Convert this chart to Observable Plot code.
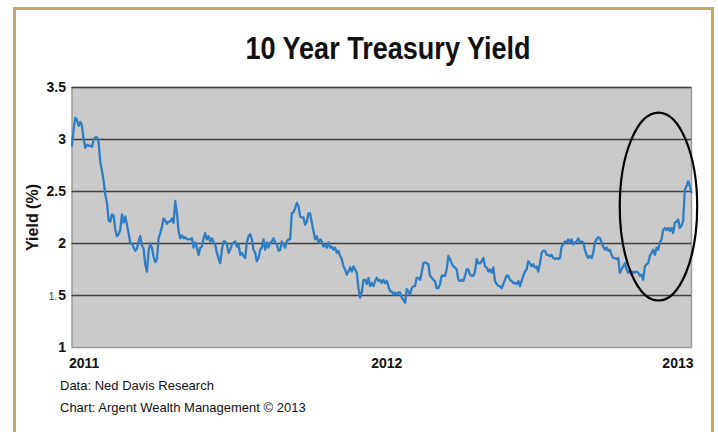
<!DOCTYPE html>
<html>
<head>
<meta charset="utf-8">
<script src="https://cdn.jsdelivr.net/npm/d3@7"></script>
<script src="https://cdn.jsdelivr.net/npm/@observablehq/plot@0.6"></script>
<style>
  html, body { margin: 0; padding: 0; background: #fff; width: 718px; height: 432px; overflow: hidden; }
  #frame { position: absolute; left: 13px; top: 7px; width: 695px; height: 480px; border: 3px solid #c6a867; }
  #title { position: absolute; left: 0; top: 32px; width: 776px; text-align: center;
           font-family: "Liberation Sans", Arial, sans-serif;
           font-weight: bold; font-size: 32px; line-height: 32px; color: #111;
           transform: scaleX(0.845); transform-origin: 388px 0; }
  #chart { position: absolute; left: 0; top: 70px; }
  .cap { position: absolute; left: 60px; font-family: "Liberation Sans", Arial, sans-serif; font-size: 13px; line-height: 16px; color: #111; }
</style>
</head>
<body>
<div id="frame"></div>
<div id="title">10 Year Treasury Yield</div>
<div id="chart"></div>
<div class="cap" style="top:378px">Data: Ned Davis Research</div>
<div class="cap" style="top:400px">Chart: Argent Wealth Management © 2013</div>
<script>
// Regularly sampled 10-year Treasury yield (%), 186 samples per year, starting 2011.0
const yields2011a = [2.94,3.10,3.21,3.19,3.13,3.17,3.13,3.00,2.92,2.95,
  2.94,2.94,2.93,3.00,3.02,3.02,2.97,2.78,2.70,2.60,
  2.47,2.39,2.22,2.21,2.28,2.27,2.13,2.07,2.09,2.13,
  2.28,2.20,2.26,2.18,2.10,2.00,2.00,1.96,1.93,1.95,
  2.02,2.07,1.98,1.95,1.80,1.73,1.93,2.00,1.96,1.87,
  1.82,1.85,2.05,2.10,2.16,2.24,2.22,2.19,2.21,2.21,
  2.24,2.20,2.41,2.29,2.12,2.05,2.08,2.05,2.06,2.04];
const yields2011b = [2.04,2.04,2.05,1.96,2.01,1.96,1.89,1.96,1.97,2.05,
  2.10,2.04,2.07,2.02,2.05,2.01,1.99,1.91,1.86,1.81,
  1.94,2.02,2.02,1.99,1.91,1.94,1.99,2.01,2.02,1.97,
  1.99,1.89,1.91,1.88,1.86,2.01,2.07,2.09,2.04,1.94,
  1.91,1.83,1.86,1.94,1.96,2.04,1.94,2.01,1.96,2.01,
  2.02,2.05,2.01,1.99,1.93,1.94,2.02,1.99,1.96,2.02,
  2.04,2.04,2.29,2.30,2.34,2.39,2.36,2.26,2.25,2.25,
  2.18,2.21];
const yields2012a = [2.29,2.29,2.20,2.12,2.04,2.07,2.01,2.04,2.02,1.97,
  1.99,1.96,2.01,1.96,1.97,1.94,1.96,1.91,1.93,1.88,
  1.85,1.78,1.75,1.70,1.73,1.77,1.73,1.78,1.75,1.72,
  1.57,1.48,1.53,1.65,1.65,1.61,1.67,1.59,1.62,1.59,
  1.64,1.67,1.64,1.65,1.62,1.65,1.62,1.64,1.59,1.54,
  1.54,1.51,1.53,1.51,1.53,1.53,1.48,1.46,1.43,1.56,
  1.54,1.51,1.57,1.59,1.59,1.67,1.67,1.65,1.72,1.81,
  1.82,1.81];
const yields2012b = [1.80,1.69,1.67,1.65,1.64,1.57,1.57,1.61,1.69,1.69,
  1.69,1.75,1.88,1.85,1.81,1.78,1.77,1.75,1.65,1.64,
  1.65,1.64,1.69,1.75,1.75,1.70,1.69,1.69,1.73,1.85,
  1.81,1.81,1.83,1.86,1.78,1.77,1.73,1.75,1.72,1.77,
  1.64,1.61,1.59,1.59,1.57,1.61,1.65,1.69,1.69,1.65,
  1.64,1.62,1.62,1.61,1.64,1.59,1.64,1.69,1.73,1.75,
  1.83,1.81,1.78,1.80,1.77,1.78,1.73,1.81,1.91,1.93,
  1.93,1.89];
const yields2012c = [1.89,1.88,1.89,1.86,1.85,1.86,1.85,1.86,1.97,1.99,
  2.02,2.01,2.04,2.01,2.04,1.99,2.01,2.02,2.05,2.01,
  2.02,2.01,1.94,1.89,1.86,1.88,1.86,1.91,2.01,2.04,
  2.06,2.05,2.01,1.97,1.94,1.96,1.93,1.94,1.89,1.86,
  1.86,1.85,1.86,1.72,1.75,1.78,1.81,1.75,1.72,1.73,
  1.70,1.73,1.72,1.73,1.72,1.69,1.70,1.65,1.78,1.80,
  1.81,1.88,1.91,1.94,1.89,1.96,1.94,2.01,2.04,2.13,
  2.15,2.13,2.15,2.12,2.15,2.10,2.20,2.21,2.23,2.15,
  2.17,2.22,2.52,2.55,2.60,2.55,2.49];
const startYear = 2011;
const samplesPerYear = 186;
const yTicks = [1, 1.5, 2, 2.5, 3, 3.5];
const gridLines = [1.5, 2, 2.5, 3, 3.5];
const xTickYears = [2011, 2012, 2013];
const xTickLabels = ["2011", "2012", "2013"];
// annotation ellipse (data units): center year, center yield, half-width (years), half-height (%)
const highlight = {cx: 2012.895, cy: 2.35, rx: 0.125, ry: 0.903};

const yields = [...yields2011a, ...yields2011b, ...yields2012a, ...yields2012b, ...yields2012c];
const series = yields.map((v, i) => ({t: startYear + i / samplesPerYear, v}));

const font = '"Liberation Sans", Arial, sans-serif';
const plot = Plot.plot({
  width: 718,
  height: 305,
  marginLeft: 71.5,
  marginRight: 27,
  marginTop: 17,
  marginBottom: 28,
  style: {background: "transparent", fontFamily: font, overflow: "visible"},
  x: {domain: [2011, 2013], axis: null},
  y: {domain: [1, 3.5], axis: null},
  marks: [
    Plot.frame({fill: "#cacaca", stroke: "#9c9c9c", strokeWidth: 1.5}),
    Plot.ruleY(gridLines, {stroke: "#3f3f3f", strokeWidth: 1.6}),
    Plot.line(series, {x: "t", y: "v", stroke: "#2e7ec6", strokeWidth: 2.3}),
    Plot.text(yTicks, {x: () => 2011, y: d => d, text: d => d === 1.5 ? "5" : String(d),
      textAnchor: "end", dx: -6, fontSize: 14, fontWeight: "bold", fill: "#111"}),
    Plot.text([1.5], {x: () => 2011, y: d => d, text: () => "1.", textAnchor: "end", dx: -15, dy: 1,
      fontSize: 10, fill: "#333"}),
    Plot.text([xTickYears[0]], {x: d => d, y: () => 1, text: () => xTickLabels[0], textAnchor: "start", dx: -3, dy: 16,
      fontSize: 14, fontWeight: "bold", fill: "#111"}),
    Plot.text([xTickYears[1]], {x: d => d, y: () => 1, text: () => xTickLabels[1], dx: 5, dy: 16,
      fontSize: 14, fontWeight: "bold", fill: "#111"}),
    Plot.text([xTickYears[2]], {x: d => d, y: () => 1, text: () => xTickLabels[2], textAnchor: "end", dx: 2, dy: 16,
      fontSize: 14, fontWeight: "bold", fill: "#111"}),
    Plot.text(["Yield (%)"], {x: () => 2011, y: () => 2.25, text: d => d, rotate: -90, dx: -39,
      fontSize: 16, fontWeight: "bold", fill: "#111"})
  ]
});
// annotation ellipse drawn through the plot's own scales
const xs = plot.scale("x"), ys = plot.scale("y");
const xsc = d3.scaleLinear(xs.domain, xs.range), ysc = d3.scaleLinear(ys.domain, ys.range);
d3.select(plot).append("ellipse")
  .attr("cx", xsc(highlight.cx)).attr("cy", ysc(highlight.cy))
  .attr("rx", Math.abs(xsc(highlight.cx + highlight.rx) - xsc(highlight.cx)))
  .attr("ry", Math.abs(ysc(highlight.cy + highlight.ry) - ysc(highlight.cy)))
  .attr("fill", "none").attr("stroke", "#000").attr("stroke-width", 2.2);
document.getElementById("chart").append(plot);
</script>
</body>
</html>
